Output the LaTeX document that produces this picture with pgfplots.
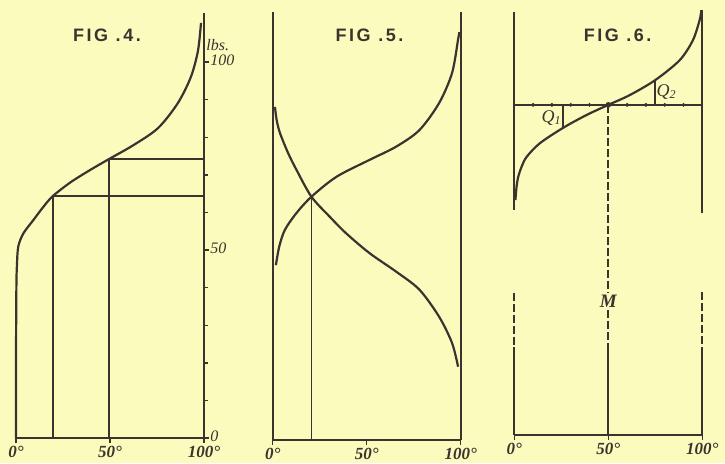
\documentclass[border=0pt]{standalone}
\usepackage{pgfplots}
\pgfplotsset{compat=1.18}
\usepackage{fontspec}
\setmainfont{Liberation Serif}
\newfontfamily\figfont{Liberation Sans}[LetterSpace=14]

\definecolor{paper}{RGB}{252,251,190}
\definecolor{ink}{RGB}{58,52,46}

\pgfplotsset{
  plate/.style={
    x=0.94pt, y=1.88pt, anchor=origin,
    xmin=0, xmax=100, ymin=0, ymax=114,
    clip=false,
    axis x line*=bottom,
    axis line style={ink, line width=0.9pt},
    xtick={0,50,100}, xticklabels={0°,50°,100°},
    xticklabel style={font=\fontsize{8.5}{9}\selectfont\bfseries\itshape, text=ink, inner sep=1pt, yshift=-0.5pt},
    tick align=outside, major tick length=2.5pt, minor tick length=2pt,
    tick style={ink, line width=0.7pt},
  },
  curve/.style={ink, line width=1.1pt, smooth, no marks},
  rule/.style={ink, line width=0.85pt, no marks},
}
\tikzset{
  figtitle/.style={font=\figfont\bfseries\fontsize{9}{10}\selectfont, text=ink},
  lab/.style={text=ink, inner sep=0.5pt},
}

\begin{document}
\begin{tikzpicture}
\path[fill=paper, use as bounding box] (0,0) rectangle (362.5pt,231.5pt);

% FIG. 4
\begin{axis}[plate, at={(8pt,12.5pt)},
  ymax=113,
  axis y line*=right,
  ytick={0,50,100}, yticklabels={0,50,100},
  minor ytick={10,20,30,40,60,70,80,90},
  yticklabel style={font=\fontsize{8}{9}\selectfont\itshape, text=ink, anchor=west, inner sep=0.5pt, yshift=1pt},
]
\addplot[curve] coordinates {
  (0,0) (0,20) (0.2,40) (0.5,46) (1.2,50.9) (3.9,54.4) (9.3,58) (14.6,61.5)
  (19.5,64.3) (29,68) (39.5,71.3) (49.5,74.2) (62.5,77.9) (75.5,82.4)
  (86,89) (93,96) (96.8,103) (98.4,110.4)
};
\addplot[rule] coordinates {(19.5,0) (19.5,64.3) (100,64.3)};
\addplot[rule] coordinates {(49.5,0) (49.5,74.2) (100,74.2)};
\node[figtitle] at (axis cs:48.4,107.2) {FIG .4.};
\node[lab, font=\fontsize{8}{9}\selectfont\itshape, anchor=west] at (axis cs:100.5,104.5) {lbs.};
\end{axis}

% FIG. 5
\begin{axis}[plate, at={(136.35pt,11.5pt)}, axis y line=none]
\addplot[rule] coordinates {(0,0) (0,113.8)};
\addplot[rule] coordinates {(100,0) (100,113.8)};
\addplot[curve] coordinates {
  (1.7,46.5) (3.5,51.5) (6.5,55.9) (12.7,60.4) (20.6,64.7) (33.9,70)
  (51.5,74.5) (65.6,78) (78,82.4) (88.5,89.6) (95.4,97.6) (98.6,106.5) (99.3,108.5)
};
\addplot[curve] coordinates {
  (1.2,88.6) (2.1,85.1) (3.9,81.6) (8.3,76.2) (12.7,71.8) (20.6,64.7)
  (30.3,59.4) (39,55) (51.5,49.7) (65.6,44.8) (78,40) (88.5,32.8)
  (95.4,25.8) (98.6,19.5)
};
\addplot[rule] coordinates {(20.6,0) (20.6,64.7)};
\node[figtitle] at (axis cs:51.5,107.7) {FIG .5.};
\end{axis}

% FIG. 6
\begin{axis}[plate, at={(257.15pt,14pt)}, axis y line=none]
\addplot[rule] coordinates {(0,59.8) (0,112.5)};
\addplot[rule] coordinates {(100,59) (100,113)};
\addplot[rule] coordinates {(0,87.8) (100,87.8)};
\addplot[ink, only marks, mark=*, mark size=0.75pt] coordinates {
  (10,87.8) (20,87.8) (30,87.8) (40,87.8) (60,87.8) (70,87.8) (80,87.8) (90,87.8)
};
\addplot[ink, only marks, mark=*, mark size=1.2pt] coordinates {(50,87.8)};
\addplot[curve] coordinates {
  (0.6,62.5) (1.2,66) (2.1,68.7) (4,71.5) (6.6,74) (13.6,77.6) (26,81.7)
  (38.4,85.1) (50,87.8) (61.4,90.4) (75,94.4) (88,99.7) (95,105)
  (98.6,110.4) (99.5,113)
};
\addplot[rule] coordinates {(26,81.7) (26,87.8)};
\addplot[rule] coordinates {(75,87.8) (75,94.4)};
\node[lab, font=\fontsize{9}{10}\selectfont\itshape] at (axis cs:19.9,84.2) {Q\textsubscript{1}};
\node[lab, font=\fontsize{9}{10}\selectfont\itshape] at (axis cs:81,91.2) {Q\textsubscript{2}};
% lower part
\addplot[rule, dash pattern=on 4pt off 1.5pt] coordinates {(50,87.8) (50,38)};
\addplot[rule, dash pattern=on 4pt off 1.5pt] coordinates {(50,33.3) (50,23.4)};
\addplot[rule] coordinates {(50,23.4) (50,0)};
\addplot[rule, dash pattern=on 4pt off 1.5pt] coordinates {(0,37.8) (0,23.4)};
\addplot[rule] coordinates {(0,23.4) (0,0)};
\addplot[rule, dash pattern=on 4pt off 1.5pt] coordinates {(100,38) (100,23.4)};
\addplot[rule] coordinates {(100,23.4) (100,0)};
\node[lab, font=\fontsize{9.5}{10}\selectfont\bfseries\itshape] at (axis cs:50,35.6) {M};
\node[figtitle] at (axis cs:55,106.4) {FIG .6.};
\end{axis}
\end{tikzpicture}
\end{document}
